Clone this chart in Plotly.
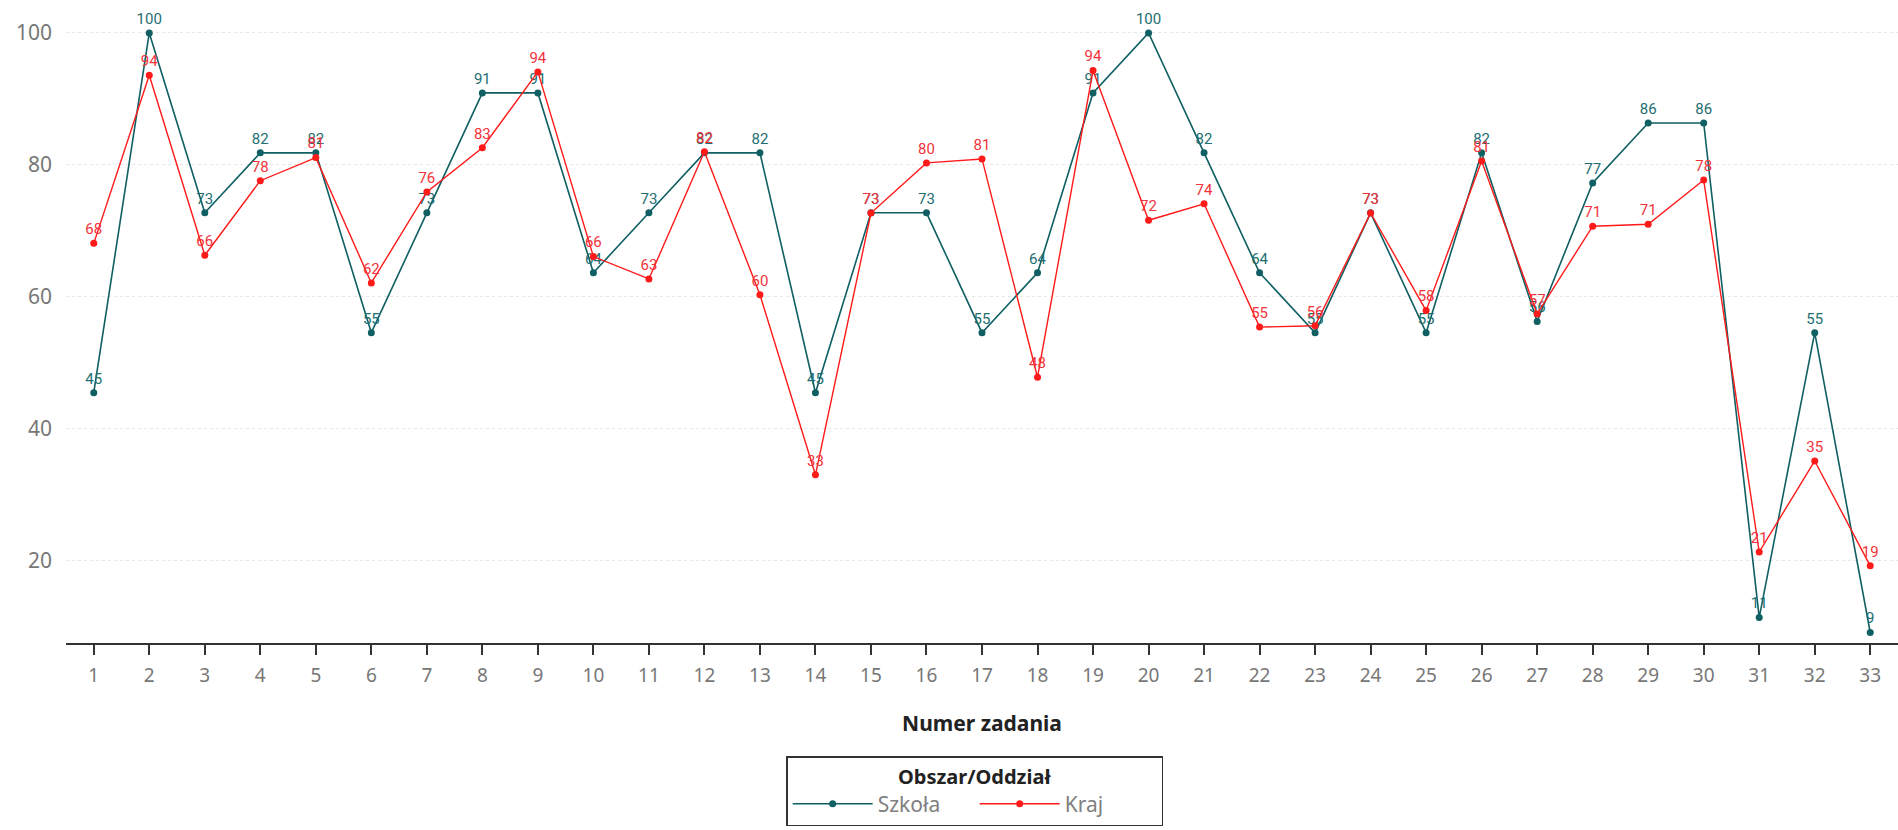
import plotly.graph_objects as go

tasks = list(range(1, 34))
szkola = [45.45, 100, 72.73, 81.82, 81.82, 54.55, 72.73, 90.91, 90.91, 63.64,
          72.73, 81.82, 81.82, 45.45, 72.73, 72.73, 54.55, 63.64, 90.91, 100,
          81.82, 63.64, 54.55, 72.73, 54.55, 81.82, 56.25, 77.27, 86.36, 86.36,
          11.36, 54.55, 9.09]
kraj = [68.1, 93.6, 66.3, 77.6, 81.1, 62.1, 75.9, 82.6, 94.1, 66.1,
        62.7, 82.0, 60.3, 33.0, 72.7, 80.3, 80.9, 47.8, 94.3, 71.6,
        74.1, 55.4, 55.6, 72.7, 57.9, 80.6, 57.4, 70.7, 71.0, 77.7,
        21.3, 35.1, 19.2]
y_ticks = [20, 40, 60, 80, 100]

TEAL = "#0F5F63"
RED = "#FF1A1A"

fig = go.Figure()
fig.add_trace(go.Scatter(
    x=tasks, y=szkola, name="Szkoła", mode="lines+markers+text",
    line=dict(color=TEAL, width=1.6), marker=dict(color=TEAL, size=7),
    texttemplate="%{y:.0f}", textposition="top center",
    textfont=dict(family="Roboto", size=15, color="#1E6E72"),
    cliponaxis=False, hoverinfo="x+y"))
fig.add_trace(go.Scatter(
    x=tasks, y=kraj, name="Kraj", mode="lines+markers+text",
    line=dict(color=RED, width=1.4), marker=dict(color=RED, size=7),
    texttemplate="%{y:.0f}", textposition="top center",
    textfont=dict(family="Roboto", size=15, color="#F2333B"),
    cliponaxis=False, hoverinfo="x+y"))

fig.update_layout(
    width=1898, height=830,
    margin=dict(l=66, r=0, t=0, b=187),
    paper_bgcolor="white", plot_bgcolor="white",
    font=dict(family="Noto Sans", color="#777777"),
    showlegend=True,
    legend=dict(
        orientation="h", x=0.496, xanchor="center",
        yref="container", y=0.089, yanchor="top",
        bordercolor="#333333", borderwidth=1.5,
        font=dict(family="Noto Sans", size=21, color="#808080"),
        title=dict(text="<b>Obszar/Oddział</b>", side="top center",
                   font=dict(family="Noto Sans", size=20, color="#222222")),
        itemwidth=80, entrywidth=92, tracegroupgap=0,
    ),
    xaxis=dict(
        range=[0.5, 33.5], tickmode="array", tickvals=tasks,
        ticktext=[str(t) for t in tasks],
        showgrid=False, zeroline=False,
        showline=True, linecolor="#333333", linewidth=2,
        ticks="outside", ticklen=10, tickwidth=1.5, tickcolor="#333333",
        tickfont=dict(family="Noto Sans", size=19, color="#777777"),
        ticklabelstandoff=4,
        title=dict(text="<b>Numer zadania</b>", standoff=30,
                   font=dict(family="Noto Sans", size=21, color="#222222")),
    ),
    yaxis=dict(
        range=[7.5, 105], tickmode="array", tickvals=y_ticks,
        showgrid=True, gridcolor="#E6E6E6", griddash="dot", gridwidth=1,
        zeroline=False, showline=False, ticks="",
        tickfont=dict(family="Noto Sans", size=21, color="#777777"),
        ticklabelstandoff=13,
    ),
)

fig.write_html("out.html", config={"displayModeBar": False},
               post_script="document.body.style.margin='0';document.body.style.overflow='hidden';")
